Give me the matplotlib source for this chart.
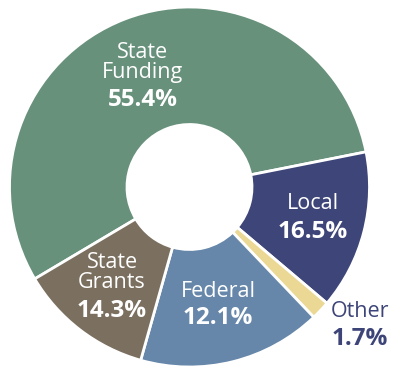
import matplotlib
matplotlib.use("Agg")
import matplotlib.pyplot as plt

plt.rcParams['font.family'] = ['Open Sans', 'DejaVu Sans']

# wedge order is clockwise starting from State Funding
names = ["State Funding", "Local", "Other", "Federal", "State Grants"]
# the source graphic draws the wedges with these sizes (they don't line up with its labels)
wedge_sizes = [55.4, 14.3, 1.7, 16.5, 12.1]
label_lines = [["State", "Funding"], ["Local"], ["Other"], ["Federal"], ["State", "Grants"]]
label_pcts = ["55.4%", "16.5%", "1.7%", "12.1%", "14.3%"]
colors = ["#67917b", "#3e4679", "#ead894", "#6687aa", "#7b6f5f"]

W, H = 400, 379
cx, cy, R = 189.5, 187.0, 180.0   # pie centre / radius in pixels

fig = plt.figure(figsize=(W / 100, H / 100), dpi=100)
ax = fig.add_axes([(cx - R) / W, (H - cy - R) / H, 2 * R / W, 2 * R / H])

ax.pie(wedge_sizes, colors=colors, startangle=210.7, counterclock=False, radius=1,
       wedgeprops=dict(width=1 - 62.5 / R, edgecolor='white', linewidth=2))
# pie() sets its own limits, so override after
ax.set_xlim(-1, 1)
ax.set_ylim(-1, 1)
ax.set_aspect('equal')
ax.axis('off')


def px(x, y):
    return (x - cx) / R, (cy - y) / R


# label placement: (x centre, name baselines, pct baseline) in pixels
spots = [
    (143, [57.7, 78.3], 106.0),
    (313, [209.3], 238.3),
    (360, [316.7], 345.0),
    (218, [296.7], 324.0),
    (112, [268.3, 288.3], 316.7),
]
for i, (x, ys, yp) in enumerate(spots):
    col = "#3c4478" if names[i] == "Other" else "white"
    for line, y in zip(label_lines[i], ys):
        ax.text(*px(x, y), line, ha='center', va='baseline', fontsize=15.5, color=col)
    ax.text(*px(x, yp), label_pcts[i], ha='center', va='baseline', fontsize=17.5,
            fontweight='bold', color=col)

fig.savefig("out.png", dpi=100)
